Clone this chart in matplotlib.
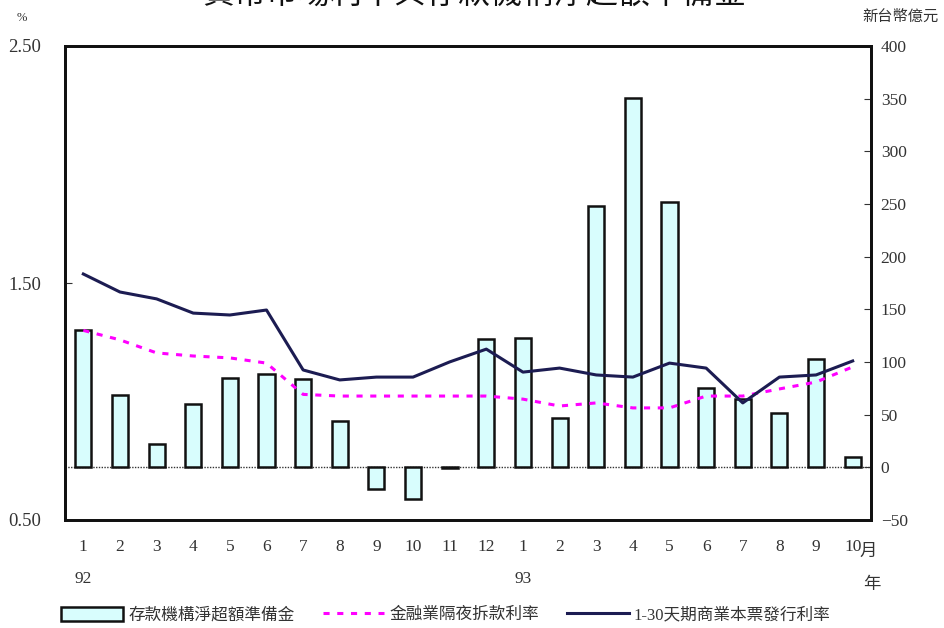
import matplotlib
matplotlib.use("Agg")
import matplotlib.pyplot as plt
from matplotlib.patches import Patch
from matplotlib.lines import Line2D

plt.rcParams['font.family'] = ['Liberation Serif', 'Noto Sans CJK TC', 'DejaVu Sans']

# Months (民國92年1月 ~ 93年10月)
months = ['1', '2', '3', '4', '5', '6', '7', '8', '9', '10', '11', '12',
          '1', '2', '3', '4', '5', '6', '7', '8', '9', '10']
years = {0: '92', 12: '93'}

# 存款機構淨超額準備金 (新台幣億元)
reserves = [130, 69, 22, 60, 85, 89, 84, 44, -21, -30, -1, 122,
            123, 47, 248, 351, 252, 75, 65, 52, 103, 10]

# 金融業隔夜拆款利率 (%)
overnight = [1.30, 1.26, 1.205, 1.192, 1.184, 1.162, 1.03, 1.023, 1.023, 1.023, 1.023, 1.023,
             1.01, 0.981, 0.994, 0.973, 0.973, 1.023, 1.023, 1.053, 1.082, 1.146]

# 1-30天期商業本票發行利率 (%)
cp_rate = [1.538, 1.462, 1.433, 1.373, 1.365, 1.386, 1.133, 1.091, 1.103, 1.103, 1.167, 1.221,
           1.124, 1.141, 1.112, 1.103, 1.162, 1.141, 0.994, 1.103, 1.112, 1.171]

x = list(range(len(months)))

fig = plt.figure(figsize=(9.45, 6.28), dpi=100)
ax = fig.add_axes([65 / 945, 1 - 520 / 628, 806 / 945, 474 / 628])
ax2 = ax.twinx()

# bars on the right axis, drawn underneath the rate lines
ax2.bar(x, reserves, width=0.44, color='#d8fdfd', edgecolor='#111111', linewidth=1.8, zorder=2)
ax2.axhline(0, color='#333333', linestyle=(0, (1, 1)), linewidth=1.0, zorder=1)
ax2.set_ylim(-50, 400)
ax2.set_yticks(range(-50, 401, 50))

ax.plot(x, overnight, color='#ff00ff', linestyle=(0, (2, 2.5)), linewidth=2.2, zorder=3)
ax.plot(x, cp_rate, color='#1c1c52', linewidth=2.2, zorder=4)
ax.set_ylim(0.5, 2.5)
ax.set_yticks([0.5, 1.5, 2.5])
ax.set_yticklabels(['0.50', '1.50', '2.50'])
ax.set_xlim(-0.5, len(months) - 0.5)
ax.set_xticks(x)
ax.set_xticklabels(months)

ax.set_zorder(ax2.get_zorder() + 1)
ax.patch.set_visible(False)

for a in (ax, ax2):
    for s in a.spines.values():
        s.set_linewidth(2.0)
        s.set_color('#111111')
ax.tick_params(axis='y', direction='in', length=5, labelsize=13.5, pad=17, colors='#333333')
ax.tick_params(axis='x', length=0, labelsize=12.5, pad=14, colors='#333333')
ax2.tick_params(axis='y', direction='in', length=5, labelsize=12.5, pad=7, colors='#333333')

# year labels under the month ticks
for i, yr in years.items():
    ax.text(i, -0.125, yr, transform=ax.get_xaxis_transform(), ha='center', va='center',
            fontsize=12.5, color='#333333')
fig.text(868 / 945, 1 - 552 / 628, '月', ha='center', va='center', fontsize=12.5, color='#333333')
fig.text(872 / 945, 1 - 585 / 628, '年', ha='center', va='center', fontsize=12.5, color='#333333')

fig.text(22 / 945, 1 - 18 / 628, '%', ha='center', va='center', fontsize=9, color='#333333')
fig.text(900 / 945, 1 - 17 / 628, '新台幣億元', ha='center', va='center', fontsize=11, color='#333333')

fig.text(475 / 945, 1 - 10 / 628, '貨幣市場利率與存款機構淨超額準備金', ha='center', va='bottom',
         fontsize=23, color='#111111')

handles = [
    Patch(facecolor='#d8fdfd', edgecolor='#111111', linewidth=1.8),
    Line2D([0], [0], color='#ff00ff', linestyle=(0, (2, 2.5)), linewidth=2.2),
    Line2D([0], [0], color='#1c1c52', linewidth=2.2),
]
labels = ['存款機構淨超額準備金', '金融業隔夜拆款利率', '1-30天期商業本票發行利率']
fig.legend(handles, labels, loc='center', bbox_to_anchor=(446 / 945, 1 - 615 / 628), ncol=3,
           frameon=False, fontsize=12, handlelength=3.7, handleheight=0.9, handletextpad=0.3,
           columnspacing=1.7, labelcolor='#333333')

fig.savefig('out.png', dpi=100)
